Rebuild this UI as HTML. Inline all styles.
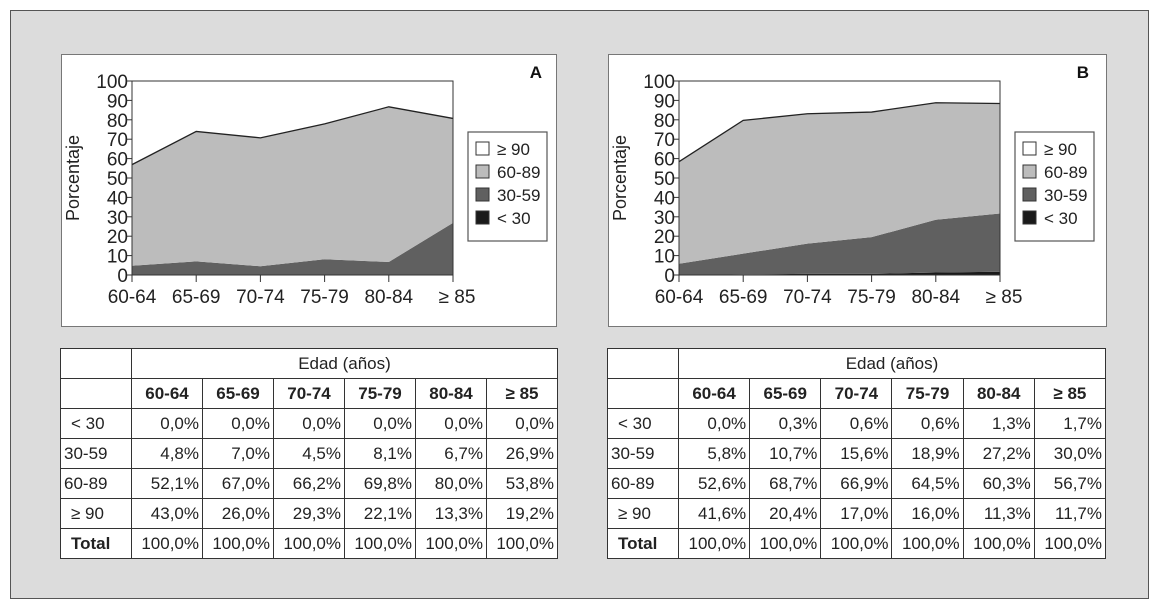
<!DOCTYPE html>
<html><head><meta charset="utf-8">
<style>
body{margin:0;width:1159px;height:604px;background:#fff;font-family:"Liberation Sans",sans-serif;position:relative;overflow:hidden}
#frame{position:absolute;left:10px;top:10px;width:1137px;height:587px;border:1px solid #555;background:#dcdcdc}
.box{position:absolute;background:#fff;border:1px solid #777}
table{position:absolute;border-collapse:collapse;background:#fff;font-size:17px;color:#222;table-layout:fixed}
tr{height:30px}
td{border:1px solid #333;height:29px;line-height:27px;padding:0 3px;text-align:right;box-sizing:border-box;white-space:nowrap;overflow:hidden}
td.l{text-align:left}
th{border:1px solid #333;height:29px;line-height:27px;padding:0;font-weight:bold;font-size:17px;box-sizing:border-box}
</style></head><body>
<div id="frame"></div>
<div class="box" style="left:61px;top:54px;width:494px;height:271px"></div>
<div class="box" style="left:608px;top:54px;width:497px;height:271px"></div>
<svg id="svg" width="1159" height="604" style="position:absolute;left:0;top:0"></svg>
<div id="tables"></div>
<script>
const categories=["60-64","65-69","70-74","75-79","80-84","≥ 85"];
const yTicks=[0,10,20,30,40,50,60,70,80,90,100];
const aLt30=[0,0,0,0,0,0];
const a3059=[4.8,7.0,4.5,8.1,6.7,26.9];
const a6089=[52.1,67.0,66.2,69.8,80.0,53.8];
const aGe90=[43.0,26.0,29.3,22.1,13.3,19.2];
const bLt30=[0,0.3,0.6,0.6,1.3,1.7];
const b3059=[5.8,10.7,15.6,18.9,27.2,30.0];
const b6089=[52.6,68.7,66.9,64.5,60.3,56.7];
const bGe90=[41.6,20.4,17.0,16.0,11.3,11.7];
const rowLabels=["< 30","30-59","60-89","≥ 90"];
const NS="http://www.w3.org/2000/svg";
const svg=document.getElementById('svg');
function el(t,a,p){const e=document.createElementNS(NS,t);for(const k in a)e.setAttribute(k,a[k]);(p||svg).appendChild(e);return e;}
function chart(x0,x1,name,series){
  const y0=275,y1=81;
  const xs=i=>x0+(x1-x0)*i/(categories.length-1);
  const ys=v=>y0-(y0-y1)*v/100;
  const g=el('g',{});
  
  
  const colors=["#1a1a1a","#606060","#bcbcbc"];
  const names=["area-lt30","area-30-59","area-60-89"];
  let base=categories.map(()=>0);
  series.forEach((s,k)=>{
    const top=base.map((b,i)=>b+s[i]);
    let d='M'+categories.map((c,i)=>xs(i)+','+ys(top[i])).join('L');
    for(let i=categories.length-1;i>=0;i--)d+='L'+xs(i)+','+ys(base[i]);
    const p=el('path',{d:d+'Z',fill:colors[k]},g);
    
    
    if(k==2){const l=el('polyline',{points:categories.map((c,i)=>xs(i)+','+ys(top[i])).join(' '),fill:'none',stroke:'#222','stroke-width':1.3},g);
      }
    base=top;
  });
  el('rect',{x:x0,y:y1,width:x1-x0,height:y0-y1,fill:'none',stroke:'#333','stroke-width':1},g);
  yTicks.forEach(t=>{
    el('line',{x1:x0-5,x2:x0,y1:ys(t),y2:ys(t),stroke:'#333'},g);
    const tx=el('text',{x:x0-4,y:ys(t)+7,'text-anchor':'end','font-size':19,fill:'#222'},g);tx.textContent=t;
    
  });
  categories.forEach((c,i)=>{
    el('line',{x1:xs(i),x2:xs(i),y1:y0,y2:y0+7,stroke:'#333'},g);
    const tx=el('text',{x:xs(i)+(i==5?4:0),y:y0+28,'text-anchor':'middle','font-size':19,fill:'#222'},g);tx.textContent=c;
    
  });
  const yt=el('text',{transform:`translate(${x0-53},178) rotate(-90)`,'text-anchor':'middle','font-size':18,fill:'#222'},g);yt.textContent='Porcentaje';
  
  const lt=el('text',{x:x1+89,y:78,'text-anchor':'end','font-size':17,'font-weight':'bold',fill:'#111'},g);lt.textContent=name.toUpperCase();
  
  const lx=x1+15;
  const lr=el('rect',{x:lx,y:132,width:79,height:109,fill:'#fff',stroke:'#555','stroke-width':1.2},g);
  
  const lc=["#fff","#bcbcbc","#606060","#1a1a1a"];
  ["≥ 90","60-89","30-59","< 30"].forEach((t,i)=>{
    const r=el('rect',{x:lx+8,y:142+i*23,width:13,height:13,fill:lc[i],stroke:'#333'},g);
    
    const tt=el('text',{x:lx+29,y:155+i*23,'font-size':17,fill:'#222'},g);tt.textContent=t;
    
  });
}
chart(132,453,'a',[aLt30,a3059,a6089]);
chart(679,1000,'b',[bLt30,b3059,b6089]);
function fmt(v){return v.toFixed(1).replace('.',',')+'%';}
function table(left,width,name,rows){
  const t=document.createElement('table');
  
  
  t.style.left=left+'px';t.style.top='348px';t.style.width=width+'px';
  let h='<colgroup><col style="width:71px">'+categories.map(()=>'<col>').join('')+'</colgroup>';
  h+='<tr><td></td><td colspan="6" style="text-align:center">Edad (años)</td></tr><tr><td></td>';
  categories.forEach(c=>h+='<th>'+c+'</th>');h+='</tr>';
  rows.forEach((r,k)=>{h+='<tr><td class="l"'+(k==0||k==3?' style="padding-left:10px"':'')+'>'+rowLabels[k]+'</td>';r.forEach(v=>h+='<td>'+fmt(v)+'</td>');h+='</tr>';});
  h+='<tr><th style="text-align:left;padding-left:10px">Total</th>';categories.forEach(()=>h+='<td>100,0%</td>');h+='</tr>';
  t.innerHTML=h;document.getElementById('tables').appendChild(t);
}
table(60,498,'a',[aLt30,a3059,a6089,aGe90]);
table(607,499,'b',[bLt30,b3059,b6089,bGe90]);
</script>
</body></html>
